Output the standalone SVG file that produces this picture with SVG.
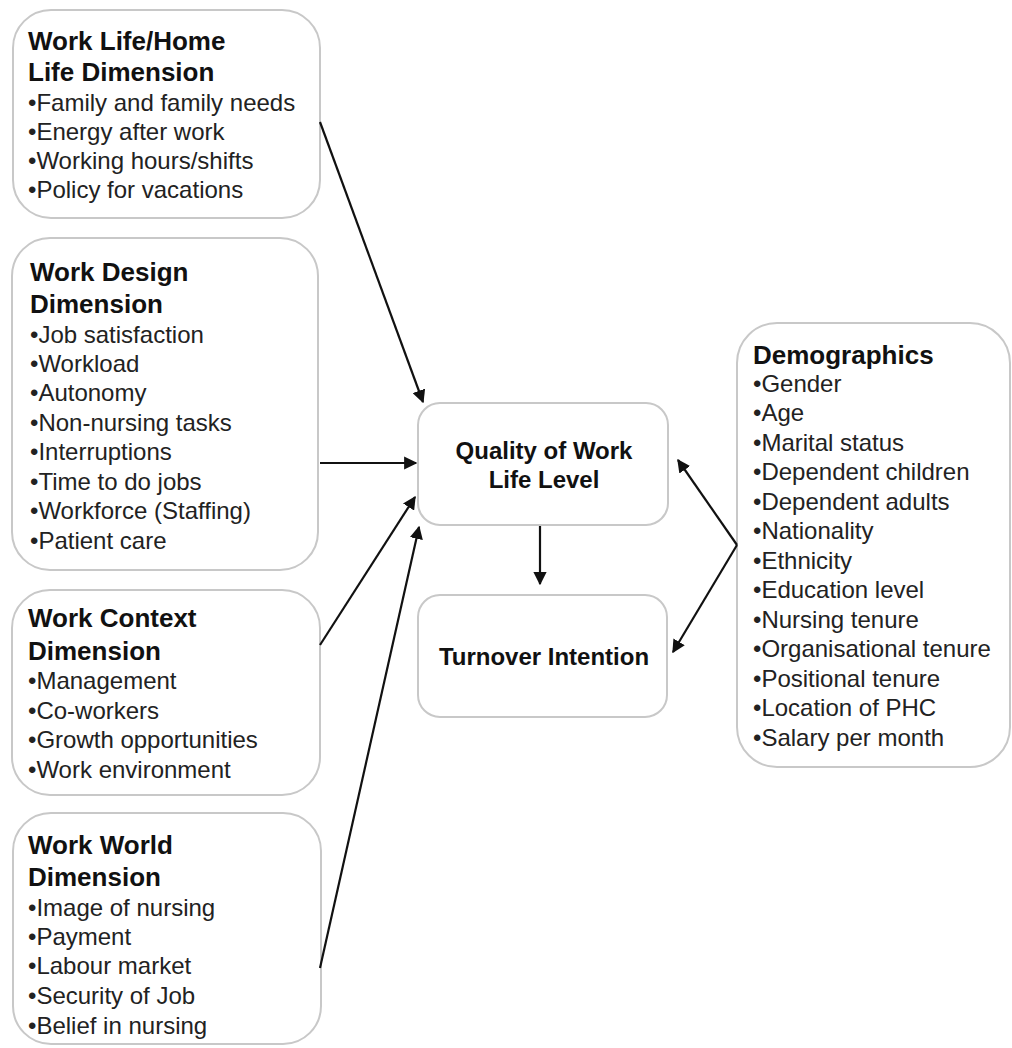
<svg xmlns="http://www.w3.org/2000/svg" width="1012" height="1048" viewBox="0 0 1012 1048">
<style>
.box{fill:#fff;stroke:#c8c8c8;stroke-width:2}
.t{font-family:"Liberation Sans",Arial,sans-serif;font-weight:bold;font-size:26px;fill:#111}
.c{font-family:"Liberation Sans",Arial,sans-serif;font-weight:bold;font-size:24px;fill:#111;text-anchor:middle}
.b{font-family:"Liberation Sans",Arial,sans-serif;font-size:24px;fill:#222}
.ln{stroke:#111;stroke-width:2.2;fill:none;marker-end:url(#ah)}
</style>
<defs>
<marker id="ah" viewBox="0 0 10 10" refX="9" refY="5" markerWidth="6" markerHeight="6" markerUnits="strokeWidth" orient="auto">
<path d="M0,0 L10,5 L0,10 z" fill="#111"/>
</marker>
</defs>
<rect width="1012" height="1048" fill="#fff"/>
<g id="worklife">
<rect class="box" x="13" y="10" width="307" height="208" rx="38"/>
<text class="t" x="28" y="50">Work Life/Home</text>
<text class="t" x="28" y="81">Life Dimension</text>
<text class="b" x="28" y="111">•Family and family needs</text>
<text class="b" x="28" y="140">•Energy after work</text>
<text class="b" x="28" y="169">•Working hours/shifts</text>
<text class="b" x="28" y="198">•Policy for vacations</text>
</g>
<g id="workdesign">
<rect class="box" x="12" y="238" width="306" height="332" rx="38"/>
<text class="t" x="30" y="281">Work Design</text>
<text class="t" x="30" y="313">Dimension</text>
<text class="b" x="30" y="343">•Job satisfaction</text>
<text class="b" x="30" y="372">•Workload</text>
<text class="b" x="30" y="401">•Autonomy</text>
<text class="b" x="30" y="431">•Non-nursing tasks</text>
<text class="b" x="30" y="460">•Interruptions</text>
<text class="b" x="30" y="490">•Time to do jobs</text>
<text class="b" x="30" y="519">•Workforce (Staffing)</text>
<text class="b" x="30" y="549">•Patient care</text>
</g>
<g id="workcontext">
<rect class="box" x="12" y="590" width="308" height="205" rx="38"/>
<text class="t" x="28" y="627">Work Context</text>
<text class="t" x="28" y="660">Dimension</text>
<text class="b" x="28" y="689">•Management</text>
<text class="b" x="28" y="719">•Co-workers</text>
<text class="b" x="28" y="748">•Growth opportunities</text>
<text class="b" x="28" y="778">•Work environment</text>
</g>
<g id="workworld">
<rect class="box" x="13" y="813" width="308" height="231" rx="38"/>
<text class="t" x="28" y="854">Work World</text>
<text class="t" x="28" y="886">Dimension</text>
<text class="b" x="28" y="916">•Image of nursing</text>
<text class="b" x="28" y="945">•Payment</text>
<text class="b" x="28" y="974">•Labour market</text>
<text class="b" x="28" y="1004">•Security of Job</text>
<text class="b" x="28" y="1034">•Belief in nursing</text>
</g>
<g id="quality">
<rect class="box" x="418" y="403" width="250" height="122" rx="22"/>
<text class="c" x="544" y="459">Quality of Work</text>
<text class="c" x="544" y="488">Life Level</text>
</g>
<g id="turnover">
<rect class="box" x="418" y="595" width="249" height="122" rx="22"/>
<text class="c" x="544" y="665">Turnover Intention</text>
</g>
<g id="demographics">
<rect class="box" x="737" y="323" width="273" height="444" rx="40"/>
<text class="t" x="753" y="364">Demographics</text>
<text class="b" x="753" y="392">•Gender</text>
<text class="b" x="753" y="421">•Age</text>
<text class="b" x="753" y="451">•Marital status</text>
<text class="b" x="753" y="480">•Dependent children</text>
<text class="b" x="753" y="510">•Dependent adults</text>
<text class="b" x="753" y="539">•Nationality</text>
<text class="b" x="753" y="569">•Ethnicity</text>
<text class="b" x="753" y="598">•Education level</text>
<text class="b" x="753" y="628">•Nursing tenure</text>
<text class="b" x="753" y="657">•Organisational tenure</text>
<text class="b" x="753" y="687">•Positional tenure</text>
<text class="b" x="753" y="716">•Location of PHC</text>
<text class="b" x="753" y="746">•Salary per month</text>
</g>
<g id="connectors">
<line class="ln" x1="320" y1="122" x2="423" y2="402"/>
<line class="ln" x1="320" y1="463" x2="416" y2="463"/>
<line class="ln" x1="320" y1="645" x2="415" y2="497"/>
<line class="ln" x1="320" y1="968" x2="419" y2="527"/>
<line class="ln" x1="540" y1="526" x2="540" y2="584"/>
<line class="ln" x1="737" y1="545" x2="678" y2="460"/>
<line class="ln" x1="737" y1="545" x2="673" y2="652"/>
</g>
</svg>
